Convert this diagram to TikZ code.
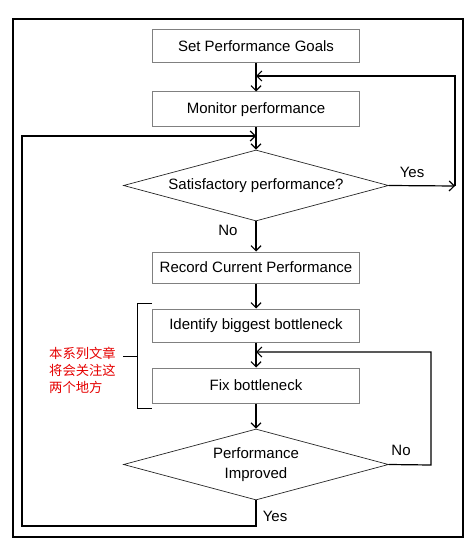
\documentclass[tikz,border=0pt]{standalone}
\usepackage{fontspec}
\setmainfont{Liberation Sans}
\newfontfamily\cjk{Noto Sans CJK SC}
\usetikzlibrary{shapes.geometric,arrows.meta}
\begin{document}
\begin{tikzpicture}[x=1bp,y=-1bp,
  every node/.style={font=\fontsize{15bp}{20bp}\selectfont},
  procbox/.style={draw=black!50,line width=1bp,rectangle,minimum width=207bp,minimum height=33bp,inner sep=0pt},
  decis/.style={draw=black!85,line width=0.7bp,diamond,aspect=3.73,minimum width=265bp,minimum height=71bp,inner sep=0pt,align=center},
  conn/.style={draw=black,line width=1.2bp},
  arr/.style={conn,-{Straight Barb[length=5bp,width=10bp,line width=1.2bp]}},
  lbl/.style={inner sep=0pt},
]
\useasboundingbox (0,0) rectangle (473,543);
\draw[line width=1.3bp] (13,19) rectangle (463,537);

\node[procbox] (b1) at (256,46.5) {Set Performance Goals};
\node[procbox,minimum height=35bp] (b2) at (256,109.5) {Monitor performance};
\node[decis] (d1) at (256,185.5) {Satisfactory performance?};
\node[procbox,minimum height=31bp] (b3) at (256,267.5) {Record Current Performance};
\node[procbox] (b4) at (256,325.5) {Identify biggest bottleneck};
\node[procbox,minimum height=35bp] (b5) at (256,385.5) {Fix bottleneck};
\node[decis] (d2) at (256,464.5) {Performance\\Improved};

\coordinate (j1) at (256,76);
\coordinate (j2) at (256,136);
\coordinate (j3) at (256,352);
\coordinate (yr) at (455,186);
\coordinate (nr) at (431,465);
\coordinate (yb) at (256,526);
\coordinate (yl) at (22,526);

\draw[arr] (b1) -- (b2);
\draw[arr] (b2) -- (d1);
\draw[arr] (d1) -- (b3);
\draw[arr] (b3) -- (b4);
\draw[arr] (b4) -- (b5);
\draw[arr] (b5) -- (d2);

\draw[arr] (d1.east) -- (yr);
\draw[arr] (yr) |- (j1);
\draw[arr] (d2.east) -- (nr) |- (j3);
\draw[arr] (d2.south) -- (yb) -- (yl) |- (j2);

\node[lbl] (lyes1) at (412,172) {Yes};
\node[lbl] (lno1) at (228,230) {No};
\node[lbl] (lno2) at (401,450) {No};
\node[lbl] (lyes2) at (275,516) {Yes};

\draw[line width=1bp] (152,303) -- (137,303) -- (137,408) -- (152,408);
\draw[line width=1bp] (137,356) -- (123,356);
\node[lbl,anchor=west,align=left,text=red!90!black,font=\cjk\fontsize{13.3bp}{17bp}\selectfont] (note) at (49,370) {本系列文章\\将会关注这\\两个地方};
\end{tikzpicture}
\end{document}
